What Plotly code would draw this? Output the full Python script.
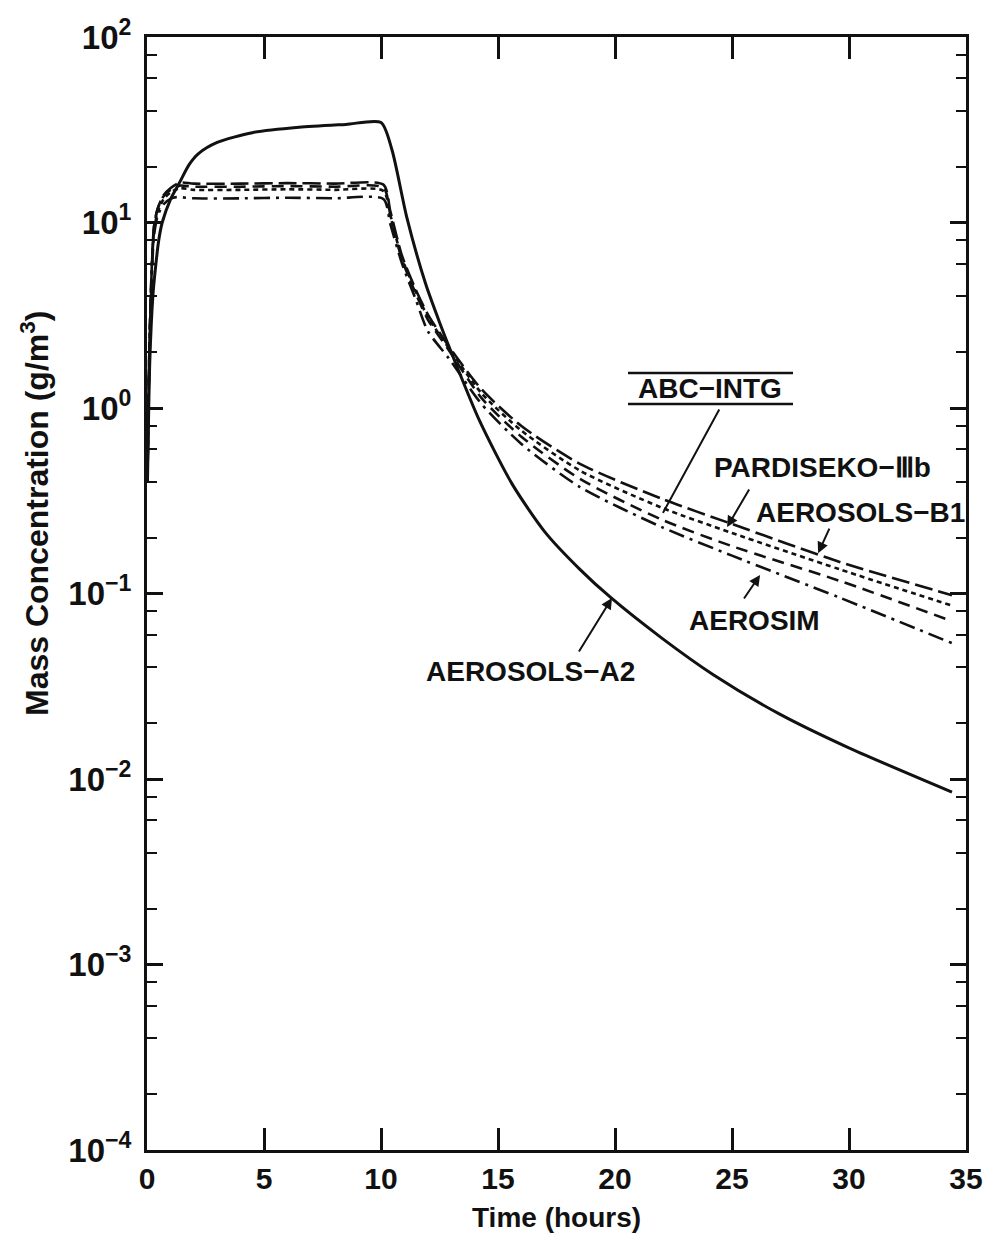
import plotly.graph_objects as go
import math

# ---------------- data ----------------
a2_t = [0.02, 0.12, 0.25, 0.35, 0.5, 0.65, 1.0, 1.4, 1.8, 2.2, 3.0, 4.5, 6.5, 8.5, 10.0,
        10.47, 11.1, 11.9, 12.5, 13.0, 14.2, 15.6, 17.0, 18.5, 19.8, 22.0, 24.2, 27.0, 29.9, 34.4]
a2_c = [0.4, 1.8, 4.0, 5.5, 8.0, 10.0, 13.3, 16.5, 20.5, 23.5, 27.0, 30.5, 32.6, 33.8, 34.6,
        24.6, 10.7, 4.7, 2.9, 2.0, 0.86, 0.39, 0.215, 0.135, 0.0955, 0.0575, 0.0365, 0.0225, 0.0149, 0.0085]

d_t = [0.02, 0.1, 0.2, 0.3, 0.45, 0.7, 1.0, 1.4, 2.0, 4.0, 6.0, 8.0, 10.1, 10.4, 10.9,
       11.5, 12.0, 12.9, 14.3, 16.0, 18.5, 22.0, 25.0, 29.6, 34.4]
b1_c = [0.4, 2.0, 5.5, 9.5, 11.8, 14.0, 15.3, 16.4, 16.2, 16.2, 16.3, 16.2, 16.0, 11.5, 6.6,
        4.3, 3.2, 2.15, 1.26, 0.80, 0.50, 0.324, 0.237, 0.148, 0.098]
pd_c = [0.4, 2.0, 5.3, 9.0, 11.3, 13.3, 14.5, 15.3, 15.0, 15.0, 15.1, 15.0, 14.8, 10.8, 6.4,
        4.2, 3.1, 2.1, 1.2, 0.755, 0.46, 0.29, 0.212, 0.135, 0.086]
ab_c = [0.4, 2.1, 5.6, 9.5, 11.8, 13.8, 15.0, 15.8, 15.6, 15.6, 15.7, 15.6, 15.4, 11.0, 6.3,
        4.1, 3.0, 2.05, 1.13, 0.70, 0.415, 0.25, 0.18, 0.117, 0.071]
am_t = [0.02, 0.1, 0.2, 0.3, 0.45, 0.7, 1.0, 1.25, 2.0, 4.0, 6.0, 8.0, 10.1, 10.4, 10.9,
        11.5, 12.0, 12.9, 14.3, 16.0, 18.5, 22.0, 25.0, 29.6, 34.4]
am_c = [0.4, 1.9, 5.0, 8.5, 10.8, 12.5, 13.4, 13.7, 13.5, 13.5, 13.6, 13.5, 13.4, 9.8, 6.0,
        3.8, 2.6, 1.85, 1.05, 0.64, 0.375, 0.228, 0.16, 0.095, 0.054]

x_ticks = [0, 5, 10, 15, 20, 25, 30, 35]
y_ticks = [1e-4, 1e-3, 1e-2, 1e-1, 1e0, 1e1, 1e2]
y_ticktext = ["10<sup>−4</sup>", "10<sup>−3</sup>", "10<sup>−2</sup>", "10<sup>−1</sup>",
              "10<sup>0</sup>", "10<sup>1</sup>", "10<sup>2</sup>"]
y_minor = [m * 10.0 ** k for k in range(-4, 2) for m in (2, 4, 6, 8)]

# label positions (time, concentration) and arrows (tail -> head)
labels = [
    ("ABC−INTG", 24.06, 1.28),
    ("PARDISEKO−Ⅲb", 28.85, 0.475),
    ("AEROSOLS−B1", 30.5, 0.275),
    ("AEROSIM", 25.98, 0.0711),
    ("AEROSOLS−A2", 16.37, 0.0378),
]
arrows = [  # tail_t, tail_c, head_t, head_c, head?
    (24.49, 1.0, 22.05, 0.272, False),
    (25.77, 0.371, 24.79, 0.228, True),
    (29.19, 0.228, 28.68, 0.165, True),
    (25.47, 0.0923, 26.2, 0.126, True),
    (18.42, 0.0478, 19.87, 0.0946, True),
]

FONT = "Liberation Sans, Arial, Helvetica, sans-serif"
BLACK = "#111111"

fig = go.Figure()
series = [
    ("AEROSOLS-A2", a2_t, a2_c, "solid", 3),
    ("AEROSOLS-B1", d_t, b1_c, "18px,6px", 2.6),
    ("PARDISEKO-IIIb", d_t, pd_c, "5px,4px", 2.6),
    ("ABC-INTG", d_t, ab_c, "12px,7px", 2.6),
    ("AEROSIM", am_t, am_c, "16px,6px,3px,6px", 2.6),
]
for name, t, c, dash, w in series:
    fig.add_trace(go.Scatter(x=t, y=c, mode="lines", name=name,
                             line=dict(color=BLACK, width=w, dash=dash, shape="spline", smoothing=0.7),
                             showlegend=False, hoverinfo="skip"))

for text, t, c in labels:
    fig.add_annotation(x=t, y=math.log10(c), xref="x", yref="y", text=text,
                       showarrow=False, font=dict(family=FONT, size=28, color=BLACK, weight="bold"))

for tt, tc, ht, hc, head in arrows:
    fig.add_annotation(x=ht, y=math.log10(hc), ax=tt, ay=math.log10(tc),
                       xref="x", yref="y", axref="x", ayref="y", text="",
                       showarrow=True, arrowhead=2 if head else 0, arrowsize=1.1,
                       arrowwidth=2, arrowcolor=BLACK, standoff=0, startstandoff=0)

# over/underline of ABC-INTG label (paper coords)
L, R, T, B = 147, 966, 37, 1150
def px(xp):
    return (xp - L) / (R - L)
def py(yp):
    return 1 - (yp - T) / (B - T)
for yy in (373, 404):
    fig.add_shape(type="line", xref="paper", yref="paper", x0=px(628), x1=px(793),
                  y0=py(yy), y1=py(yy), line=dict(color=BLACK, width=2.5))

# axis titles
fig.add_annotation(xref="paper", yref="paper", x=px(35), y=py(514), xanchor="center", yanchor="middle",
                   text="Mass Concentration (g/m<sup>3</sup>)", textangle=-90, showarrow=False,
                   font=dict(family=FONT, size=32, color=BLACK, weight="bold"))
fig.add_annotation(xref="paper", yref="paper", x=px(556), y=py(1217), xanchor="center", yanchor="middle",
                   text="Time (hours)", showarrow=False,
                   font=dict(family=FONT, size=28, color=BLACK, weight="bold"))

fig.update_layout(
    width=999, height=1249,
    margin=dict(l=L, r=999 - R, t=T, b=1249 - B),
    paper_bgcolor="white", plot_bgcolor="white",
    showlegend=False,
)
fig.update_xaxes(range=[0, 35], tickvals=x_ticks, ticks="inside", ticklen=22, tickwidth=2.5,
                 tickcolor=BLACK, showline=True, linewidth=3, linecolor=BLACK, mirror="ticks",
                 showgrid=False, zeroline=False,
                 tickfont=dict(family=FONT, size=30, color=BLACK, weight="bold"))
fig.update_yaxes(type="log", range=[-4, 2], tickvals=y_ticks, ticktext=y_ticktext,
                 ticks="inside", ticklen=16, tickwidth=2.5, tickcolor=BLACK,
                 showline=True, linewidth=3, linecolor=BLACK, mirror="ticks",
                 showgrid=False, zeroline=False, ticklabelstandoff=6,
                 minor=dict(tickvals=y_minor, ticks="inside", ticklen=10, tickwidth=2,
                            tickcolor=BLACK, showgrid=False),
                 tickfont=dict(family=FONT, size=33, color=BLACK, weight="bold"))

fig.write_html("out.html")
